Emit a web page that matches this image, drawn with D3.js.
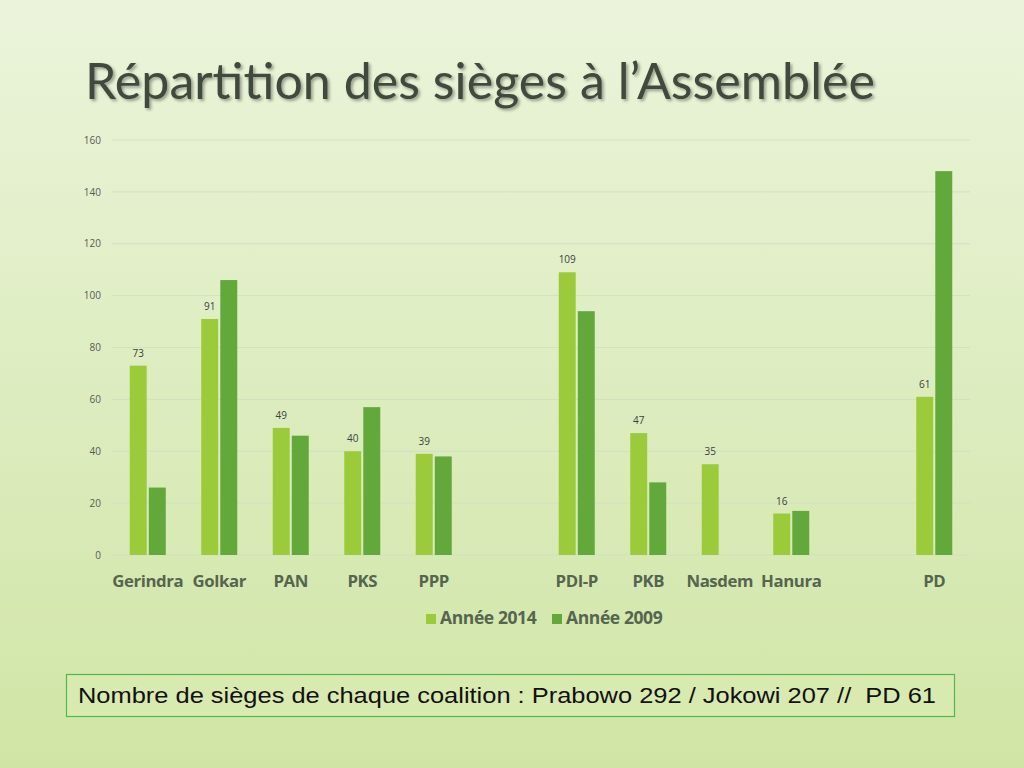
<!DOCTYPE html>
<html>
<head>
<meta charset="utf-8">
<script src="https://cdn.jsdelivr.net/npm/d3@7"></script>
<style>
  html, body { margin: 0; padding: 0; }
  body { width: 1024px; height: 768px; overflow: hidden; }
</style>
</head>
<body>
<div id="slide"></div>
<script>
// chart data
const parties = ["Gerindra", "Golkar", "PAN", "PKS", "PPP", "", "PDI-P", "PKB", "Nasdem", "Hanura", "", "PD"];
const seats2014 = [73, 91, 49, 40, 39, null, 109, 47, 35, 16, null, 61];
const seats2009 = [26, 106, 46, 57, 38, null, 94, 28, null, 17, null, 148];
const seriesNames = ["Année 2014", "Année 2009"];
const yTicks = [0, 20, 40, 60, 80, 100, 120, 140, 160];

const W = 1024, H = 768;
const plot = {left: 112, right: 970, top: 140, bottom: 555};
const colors = ["#9bcb3b", "#62a83a"];

const svg = d3.select("#slide").append("svg")
    .attr("width", W)
    .attr("height", H);

// background gradient
const defs = svg.append("defs");
const grad = defs.append("linearGradient")
    .attr("id", "bg")
    .attr("x1", 0).attr("y1", 0).attr("x2", 0).attr("y2", 1);
grad.append("stop").attr("offset", "0%").attr("stop-color", "#ebf4db");
grad.append("stop").attr("offset", "100%").attr("stop-color", "#d0e5a5");

const shadow = defs.append("filter").attr("id", "shadow")
    .attr("x", "-5%").attr("y", "-20%").attr("width", "110%").attr("height", "150%");
shadow.append("feDropShadow")
    .attr("dx", 2).attr("dy", 2).attr("stdDeviation", 1.5)
    .attr("flood-color", "#000").attr("flood-opacity", 0.35);

svg.append("rect")
    .attr("width", W).attr("height", H)
    .attr("fill", "url(#bg)");

// title
svg.append("text")
    .text("Répartition des sièges à l’Assemblée")
    .attr("x", 85)
    .attr("y", 99)
    .attr("font-family", "Lato, 'Open Sans', sans-serif")
    .attr("font-weight", 400)
    .attr("font-size", 51)
    .attr("textLength", 790)
    .attr("lengthAdjust", "spacingAndGlyphs")
    .attr("fill", "#3f4a3c")
    .attr("filter", "url(#shadow)");

// scales
const x = d3.scaleBand()
    .domain(d3.range(parties.length))
    .range([plot.left, plot.right]);

const xSub = d3.scaleBand()
    .domain([0, 1])
    .range([0, 36])
    .paddingInner(0.11);

const y = d3.scaleLinear()
    .domain([0, 160])
    .range([plot.bottom, plot.top]);

// gridlines
svg.append("g")
    .selectAll("line")
    .data(yTicks)
    .enter()
    .append("line")
    .attr("x1", plot.left)
    .attr("x2", plot.right)
    .attr("y1", d => y(d))
    .attr("y2", d => y(d))
    .attr("stroke", "#d3e0c2")
    .attr("stroke-width", 1);

// y axis labels
const yAxis = d3.axisLeft(y)
    .tickValues(yTicks)
    .tickSize(0)
    .tickPadding(0);

const gy = svg.append("g")
    .attr("transform", "translate(" + 101 + "," + 0 + ")")
    .call(yAxis);
gy.select(".domain").remove();
gy.selectAll("text")
    .attr("font-family", "'Open Sans', sans-serif")
    .attr("font-size", 10)
    .attr("fill", "#595959");

// bars
const series = [seats2014, seats2009];
const groupOffset = (x.bandwidth() - 36) / 2;

series.forEach((vals, s) => {
    svg.append("g")
        .selectAll("rect")
        .data(vals.map((v, i) => ({i: i, v: v})).filter(d => d.v !== null))
        .enter()
        .append("rect")
        .attr("x", d => x(d.i) + groupOffset + xSub(s))
        .attr("y", d => y(d.v))
        .attr("width", xSub.bandwidth())
        .attr("height", d => y(0) - y(d.v))
        .attr("fill", colors[s]);
});

// data labels for 2014
svg.append("g")
    .selectAll("text")
    .data(seats2014.map((v, i) => ({i: i, v: v})).filter(d => d.v !== null))
    .enter()
    .append("text")
    .text(d => d.v)
    .attr("x", d => x(d.i) + groupOffset + xSub(0) + xSub.bandwidth() / 2)
    .attr("y", d => y(d.v) - 9)
    .attr("text-anchor", "middle")
    .attr("font-family", "'Open Sans', sans-serif")
    .attr("font-size", 10)
    .attr("fill", "#404040");

// category labels
const xAxis = d3.axisBottom(x)
    .tickFormat(i => parties[i])
    .tickSize(0)
    .tickPadding(0);

const gx = svg.append("g")
    .attr("transform", "translate(" + 0 + "," + 587 + ")")
    .call(xAxis);
gx.select(".domain").remove();
gx.selectAll("text")
    .attr("dy", 0)
    .attr("font-family", "'Open Sans', sans-serif")
    .attr("font-weight", 700)
    .attr("font-size", 16.8)
    .attr("letter-spacing", -0.4)
    .attr("fill", "#56654f");

// legend
const legend = svg.append("g")
    .attr("transform", "translate(" + 426 + "," + 624 + ")");
const legendOffsets = [0, 126];
seriesNames.forEach((name, s) => {
    const g = legend.append("g")
        .attr("transform", "translate(" + legendOffsets[s] + ",0)");
    g.append("rect")
        .attr("x", 0).attr("y", -10)
        .attr("width", 10).attr("height", 10)
        .attr("fill", colors[s]);
    g.append("text")
        .text(name)
        .attr("x", 14)
        .attr("y", 0)
        .attr("font-family", "'Open Sans', sans-serif")
        .attr("font-weight", 700)
        .attr("font-size", 17.5)
        .attr("letter-spacing", -0.4)
        .attr("fill", "#56654f");
});

// coalition note box
svg.append("rect")
    .attr("x", 66.5)
    .attr("y", 674.5)
    .attr("width", 888)
    .attr("height", 42)
    .attr("fill", "#d8eab0")
    .attr("stroke", "#4fb84f")
    .attr("stroke-width", 1.2);

svg.append("text")
    .text("Nombre de sièges de chaque coalition : Prabowo 292 / Jokowi 207 //  PD 61")
    .attr("x", 78)
    .attr("y", 703)
    .attr("xml:space", "preserve")
    .style("white-space", "pre")
    .attr("font-family", "'Liberation Sans', Arial, sans-serif")
    .attr("font-size", 22)
    .attr("textLength", 858)
    .attr("lengthAdjust", "spacingAndGlyphs")
    .attr("fill", "#111");
</script>
</body>
</html>
